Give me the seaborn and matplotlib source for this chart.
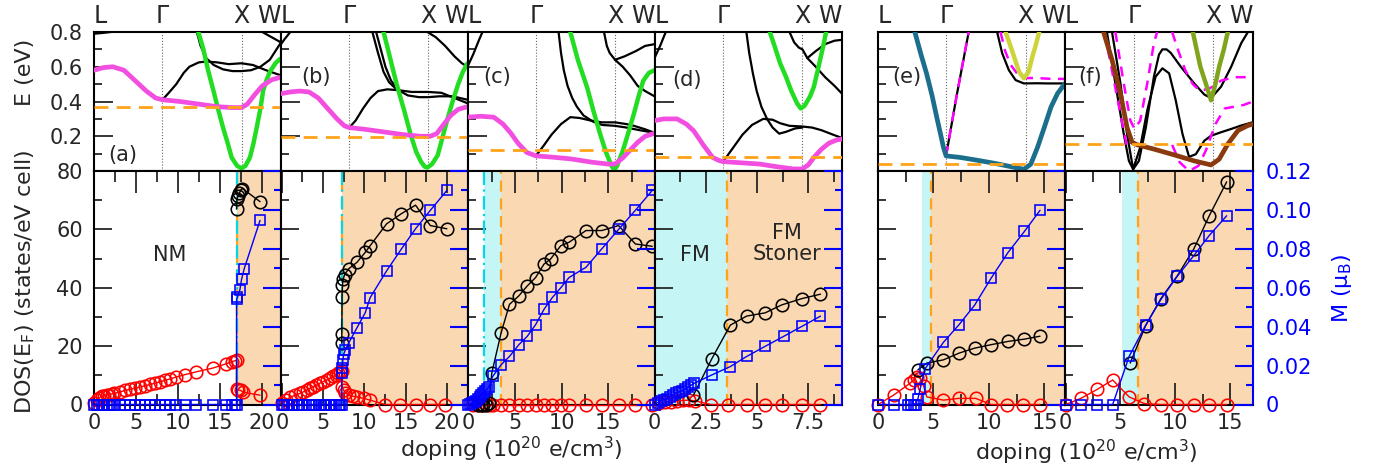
import numpy as np
import matplotlib
matplotlib.use("Agg")
import matplotlib.pyplot as plt
import seaborn as sns
from matplotlib.ticker import MultipleLocator, FuncFormatter, NullFormatter

sns.set_style("white")
plt.rcParams["font.family"] = ["DejaVu Sans"]
plt.rcParams["mathtext.fontset"] = "dejavusans"

# ---------------- data: k-path ----------------
K_G, K_X = 0.366, 0.789
KPATH_TICKS = [0.0, K_G, K_X, 1.0]
KPATH_LABELS = ["L", "Γ", "X", "W"]

# ---------------- band structures (k, E) ----------------
# (a)
A_MAG = [(0.0,0.58),(0.05,0.595),(0.10,0.60),(0.16,0.58),(0.22,0.52),(0.28,0.46),(0.33,0.42),(0.366,0.41),(0.46,0.40),(0.56,0.385),(0.66,0.37),(0.74,0.365),(0.789,0.365),(0.82,0.385),(0.86,0.44),(0.90,0.49),(0.95,0.525),(1.0,0.54)]
A_GRN = [(0.558,0.80),(0.585,0.70),(0.61,0.58),(0.638,0.465),(0.665,0.35),(0.69,0.25),(0.715,0.16),(0.736,0.078),(0.765,0.03),(0.789,0.015),(0.81,0.03),(0.834,0.078),(0.853,0.16),(0.87,0.25),(0.89,0.36),(0.905,0.465),(0.925,0.53),(0.94,0.57),(0.97,0.62),(0.995,0.645)]
A_BLK1 = [(0.366,0.41),(0.40,0.45),(0.44,0.50),(0.48,0.565),(0.51,0.60),(0.56,0.625),(0.60,0.63),(0.66,0.625),(0.72,0.615),(0.789,0.62),(0.85,0.61),(0.92,0.58),(1.0,0.55)]
A_BLK2 = [(0.55,0.80),(0.57,0.72),(0.60,0.65),(0.64,0.61),(0.69,0.585),(0.74,0.575),(0.789,0.575),(0.84,0.58),(0.89,0.60),(0.94,0.64),(1.0,0.74)]
A_BLK3 = [(0.90,0.80),(0.95,0.77),(1.0,0.74)]
A_BLK4 = [(0.0,0.79),(0.05,0.795),(0.09,0.80)]
# (b)
B_MAG = [(0.0,0.445),(0.05,0.455),(0.10,0.46),(0.15,0.455),(0.20,0.42),(0.25,0.36),(0.30,0.30),(0.34,0.26),(0.366,0.25),(0.45,0.24),(0.55,0.225),(0.65,0.21),(0.75,0.20),(0.80,0.20),(0.835,0.215),(0.87,0.265),(0.91,0.32),(0.95,0.355),(1.0,0.37)]
B_GRN = [(0.55,0.80),(0.585,0.65),(0.62,0.50),(0.66,0.35),(0.695,0.21),(0.725,0.11),(0.75,0.055),(0.77,0.025),(0.785,0.02),(0.81,0.04),(0.84,0.09),(0.865,0.19),(0.89,0.29),(0.92,0.40),(0.95,0.50),(0.975,0.57),(1.0,0.62)]
B_BLK1 = [(0.366,0.25),(0.40,0.29),(0.44,0.36),(0.48,0.42),(0.52,0.46),(0.57,0.47),(0.63,0.465),(0.70,0.455),(0.789,0.455),(0.86,0.45),(0.93,0.42),(1.0,0.39)]
B_BLK2 = [(0.51,0.80),(0.535,0.70),(0.56,0.60),(0.59,0.52),(0.63,0.465),(0.68,0.435),(0.74,0.425),(0.789,0.425),(0.85,0.43),(0.92,0.43),(1.0,0.41)]
B_BLK3 = [(0.49,0.80),(0.52,0.68),(0.55,0.57),(0.58,0.51),(0.62,0.47)]
B_BLK4 = [(0.785,0.80),(0.80,0.79),(0.83,0.77),(0.88,0.72),(0.93,0.66),(0.97,0.62),(1.0,0.60)]
B_BLK5 = [(0.0,0.73),(0.02,0.76),(0.05,0.80)]
# (c)
C_MAG = [(0.0,0.31),(0.07,0.315),(0.14,0.31),(0.19,0.27),(0.23,0.22),(0.27,0.16),(0.317,0.107),(0.366,0.087),(0.45,0.08),(0.55,0.07),(0.67,0.05),(0.75,0.04),(0.789,0.04),(0.83,0.075),(0.87,0.12),(0.91,0.165),(0.95,0.20),(1.0,0.217)]
C_GRN = [(0.55,0.80),(0.59,0.64),(0.64,0.48),(0.675,0.34),(0.71,0.21),(0.74,0.11),(0.77,0.03),(0.785,0.005),(0.80,0.03),(0.83,0.115),(0.86,0.22),(0.89,0.33),(0.915,0.43),(0.94,0.52),(0.97,0.565),(1.0,0.58)]
C_BLK1 = [(0.366,0.087),(0.41,0.15),(0.45,0.21),(0.50,0.27),(0.55,0.31),(0.60,0.305),(0.66,0.29),(0.72,0.28),(0.789,0.28),(0.85,0.27),(0.89,0.26),(0.95,0.24),(1.0,0.22)]
C_BLK2 = [(0.487,0.80),(0.50,0.68),(0.515,0.58),(0.535,0.49),(0.56,0.42),(0.585,0.37),(0.62,0.32),(0.67,0.285),(0.72,0.265),(0.789,0.26),(0.85,0.25),(0.92,0.235),(1.0,0.22)]
C_BLK3 = [(0.73,0.80),(0.745,0.72),(0.76,0.68),(0.789,0.64),(0.84,0.66),(0.90,0.69),(0.95,0.72),(1.0,0.73)]
C_BLK4 = [(0.789,0.64),(0.83,0.60),(0.87,0.55),(0.91,0.49),(0.95,0.46),(1.0,0.43)]
C_BLK5 = [(0.0,0.60),(0.03,0.67),(0.06,0.75),(0.08,0.80)]
# (d)
D_MAG = [(0.0,0.29),(0.05,0.30),(0.12,0.30),(0.17,0.27),(0.21,0.23),(0.26,0.15),(0.31,0.078),(0.345,0.06),(0.366,0.054),(0.45,0.048),(0.56,0.04),(0.65,0.025),(0.74,0.012),(0.789,0.012),(0.82,0.035),(0.85,0.078),(0.89,0.125),(0.93,0.16),(0.97,0.178),(1.0,0.184)]
D_GRN = [(0.615,0.80),(0.64,0.72),(0.67,0.62),(0.70,0.545),(0.73,0.46),(0.76,0.39),(0.78,0.36),(0.80,0.375),(0.83,0.43),(0.85,0.485),(0.875,0.60),(0.90,0.72),(0.915,0.80)]
D_BLK1 = [(0.366,0.054),(0.41,0.12),(0.47,0.21),(0.52,0.265),(0.58,0.30),(0.63,0.295),(0.67,0.275),(0.72,0.26),(0.789,0.256),(0.84,0.25),(0.89,0.235),(0.95,0.21),(1.0,0.19)]
D_BLK2 = [(0.49,0.80),(0.505,0.68),(0.525,0.56),(0.545,0.46),(0.57,0.37),(0.60,0.30),(0.63,0.25),(0.665,0.215),(0.70,0.225),(0.75,0.245),(0.789,0.25)]
D_BLK3 = [(0.72,0.80),(0.745,0.74),(0.77,0.71),(0.789,0.70),(0.815,0.65),(0.86,0.60),(0.91,0.54),(0.96,0.49),(1.0,0.445)]
D_BLK4 = [(0.815,0.65),(0.86,0.69),(0.91,0.73),(0.96,0.75),(1.0,0.755)]
D_BLK5 = [(0.0,0.65),(0.03,0.72),(0.06,0.80)]
# (e)
E_TEAL = [(0.197,0.80),(0.23,0.67),(0.26,0.56),(0.29,0.43),(0.314,0.31),(0.335,0.21),(0.35,0.136),(0.364,0.087),(0.44,0.078),(0.53,0.062),(0.62,0.045),(0.71,0.025),(0.78,0.01),(0.817,0.039),(0.853,0.136),(0.889,0.25),(0.925,0.368),(0.96,0.446),(1.0,0.504)]
E_BLK1 = [(0.364,0.087),(0.42,0.43),(0.485,0.80)]
E_BLK2 = [(0.637,0.80),(0.664,0.678),(0.70,0.58),(0.736,0.523),(0.78,0.504),(0.85,0.505),(0.907,0.504),(1.0,0.504)]
E_MAGD1 = [(0.364,0.087),(0.42,0.43),(0.485,0.80)]
E_MAGD2 = [(0.655,0.80),(0.68,0.69),(0.71,0.61),(0.745,0.56),(0.78,0.535),(0.85,0.535),(0.93,0.53),(1.0,0.53)]
E_YEL = [(0.682,0.80),(0.705,0.73),(0.727,0.66),(0.755,0.57),(0.78,0.533),(0.805,0.57),(0.826,0.66),(0.845,0.73),(0.862,0.80)]
# (f)
F_BRN = [(0.205,0.80),(0.25,0.64),(0.295,0.446),(0.33,0.25),(0.357,0.165),(0.384,0.151),(0.473,0.126),(0.58,0.093),(0.6875,0.058),(0.777,0.035),(0.82,0.068),(0.866,0.155),(0.92,0.233),(0.973,0.262),(1.0,0.27)]
F_BLK1 = [(0.223,0.80),(0.268,0.504),(0.3125,0.213),(0.34,0.058),(0.3625,0.01),(0.393,0.058),(0.43,0.25),(0.473,0.543),(0.50,0.67),(0.518,0.70),(0.54,0.70),(0.5625,0.68),(0.616,0.60),(0.6875,0.504),(0.741,0.44),(0.777,0.42),(0.83,0.485),(0.884,0.60),(0.9375,0.736),(0.973,0.80)]
F_BLK2 = [(0.25,0.80),(0.295,0.504),(0.33,0.213),(0.3625,0.01),(0.40,0.136),(0.4375,0.349),(0.482,0.543),(0.518,0.591),(0.554,0.562),(0.589,0.407),(0.625,0.213),(0.66,0.081),(0.696,0.097),(0.741,0.174),(0.777,0.203),(0.83,0.223),(0.884,0.242),(0.9375,0.262),(1.0,0.281)]
F_OLV = [(0.68,0.80),(0.70,0.70),(0.72,0.60),(0.75,0.50),(0.777,0.407),(0.80,0.50),(0.82,0.60),(0.845,0.70),(0.866,0.80)]
F_MAGD1 = [(0.268,0.80),(0.3125,0.504),(0.348,0.29),(0.37,0.242),(0.40,0.29),(0.4375,0.504),(0.473,0.736),(0.49,0.80)]
F_MAGD2 = [(0.21,0.80),(0.255,0.55),(0.30,0.30),(0.33,0.14)]
F_MAGD3 = [(0.57,0.15),(0.61,0.05),(0.66,0.0),(0.71,0.03),(0.75,0.12),(0.80,0.27),(0.85,0.36),(0.90,0.37),(0.95,0.38),(1.0,0.40)]
F_MAGD4 = [(0.57,0.80),(0.60,0.70),(0.64,0.58),(0.68,0.50),(0.72,0.46),(0.777,0.48),(0.83,0.52),(0.90,0.54),(1.0,0.54)]

FERMI = [0.368, 0.198, 0.12, 0.083, 0.04, 0.155]

# ---------------- doping data ----------------
# (a)
A_RED_X = [0,0.3,0.6,0.9,1.2,1.5,1.8,2.1,2.4,3.1,3.7,4.3,4.9,5.5,6.1,6.7,7.3,7.9,8.5,9.1,9.8,10.8,12.2,14.2,15.8,16.4,16.8,17.0,17.0,17.2,17.5,17.8,19.8]
A_RED = [0.5,1.5,2.2,2.8,3.0,3.2,3.4,3.6,3.8,4.3,4.8,5.2,5.6,6.0,6.4,6.9,7.3,7.8,8.3,8.8,9.4,10.2,11.2,12.5,14.0,14.6,15.0,15.2,5.2,5.0,4.8,4.2,3.2]
A_BLK_X = [17.0,17.05,17.2,17.35,17.5,17.7,19.8]
A_BLK = [67.0,70.5,71.5,72.5,73.5,74.0,69.5]
A_M_X = [0,0.3,0.6,0.9,1.2,1.5,1.8,2.1,2.4,3.1,3.7,4.3,4.9,5.5,6.1,6.7,7.3,7.9,8.5,9.1,9.8,10.8,12.2,14.2,15.8,16.4,16.8,17.0,17.0,17.1,17.4,17.6,17.9,19.8]
A_M = [0]*28 + [0.054,0.055,0.059,0.0644,0.0696,0.0946]
# (b)
B_RED_X = [0,0.5,1.0,1.6,2.2,2.6,3.0,3.4,3.8,4.2,4.6,5.0,5.45,5.85,6.26,6.6,6.86,7.1,7.27,7.27,7.5,7.7,8.1,8.6,9.1,9.9,10.7,12.5,14.3,16.2,18.0,19.8]
B_RED = [0.5,1.5,2.4,3.2,3.8,4.3,4.9,5.5,6.1,6.6,7.3,7.8,8.4,9.0,9.6,10.1,10.7,11.2,11.6,6.1,4.9,4.0,3.2,2.8,2.6,2.1,1.5,0,0,0,0,0]
B_BLK_X = [7.27,7.27,7.3,7.35,7.45,7.6,8.1,9.1,10.1,10.7,12.7,14.5,16.2,18.0,20.0]
B_BLK = [21.0,24.0,37.0,41.0,43.0,44.5,46.5,48.7,52.1,54.4,61.9,65.4,68.3,61.3,60.2]
B_M_X = [0,0.3,0.6,0.9,1.2,1.5,1.8,2.1,2.4,3.3,3.6,3.9,4.2,4.5,4.8,5.1,5.4,6.0,6.3,6.6,6.9,7.1,7.27,7.27,7.3,7.4,7.5,7.7,8.1,9.1,10.1,10.7,12.7,14.5,16.2,18.0,20.0]
B_M = [0]*23 + [0.016,0.019,0.023,0.026,0.028,0.0316,0.0394,0.0471,0.0549,0.0687,0.080,0.0903,0.0998,0.110]
# (c)
C_RED_X = [0.5,1.0,1.5,2.0,2.3,2.6,3.5,4.4,5.4,6.3,7.2,8.1,9.0,9.9,10.8,12.6,14.3,16.1,17.9,19.7]
C_RED = [0]*20
C_BLK_X = [1.0,1.3,1.6,1.9,2.2,2.5,3.5,4.4,5.4,6.3,7.2,8.1,8.8,9.9,10.8,12.6,14.3,16.1,17.9,19.7]
C_BLK = [0,0,0,0,0.5,10.7,24.5,34.3,37.2,40.6,43.5,48.1,49.8,54.4,55.6,59.6,59.6,61.3,55.0,54.2]
C_M_X = [0,0.2,0.4,0.6,0.8,1.0,1.2,1.4,1.6,1.8,2.0,2.2,2.6,3.5,4.4,5.4,6.3,7.2,8.1,9.0,9.9,10.8,12.6,14.3,16.1,17.9,19.7]
C_M = [0,0.0005,0.001,0.0015,0.002,0.003,0.004,0.005,0.006,0.007,0.008,0.009,0.0144,0.0204,0.0247,0.0307,0.035,0.041,0.0489,0.055,0.060,0.0653,0.0705,0.080,0.090,0.0998,0.110]
# (d)
D_RED_X = [0.2,0.5,0.8,1.1,1.4,1.7,2.0,2.75,3.6,4.5,5.4,6.2,7.2,8.1]
D_RED = [0.5,0.8,1.0,1.2,1.4,1.5,1.2,0,0,0,0,0,0,0]
D_BLK_X = [1.9,2.8,3.7,4.5,5.4,6.2,7.2,8.1]
D_BLK = [3.2,15.7,27.2,30.3,31.4,34.1,36.3,37.8]
D_M_X = [0,0.15,0.3,0.45,0.6,0.75,0.9,1.05,1.2,1.35,1.5,1.65,1.8,1.95,2.8,3.7,4.5,5.4,6.3,7.2,8.1]
D_M = [0,0.001,0.002,0.0025,0.003,0.004,0.005,0.006,0.0065,0.007,0.008,0.009,0.010,0.011,0.0152,0.0195,0.0247,0.0299,0.035,0.0402,0.0454]
# (e)
E_RED_X = [0,1.4,2.9,3.2,3.5,3.8,4.1,4.4,5.9,7.3,8.8,10.2,11.6,13.1,14.6]
E_RED = [0,3.2,7.3,8.4,9.5,9.0,6.5,2.6,1.5,2.1,2.1,0,0,0,0]
E_BLK_X = [3.6,4.4,5.9,7.3,8.7,10.2,11.7,13.2,14.6]
E_BLK = [11.9,14.2,15.3,17.6,19.3,20.5,21.6,22.4,23.4]
E_M_X = [0,1.4,2.7,3.0,3.2,3.4,3.6,3.8,4.2,5.9,7.3,8.7,10.2,11.7,13.2,14.6]
E_M = [0,0,0,0,0,0,0.003,0.008,0.018,0.032,0.041,0.051,0.065,0.078,0.089,0.0998]
# (f)
F_RED_X = [0,1.4,2.9,4.3,5.8,7.2,8.7,10.2,11.7,13.1,14.7]
F_RED = [0,2.1,5.2,8.4,2.6,0.3,0,0,0,0,0]
F_BLK_X = [5.9,7.3,8.7,10.2,11.7,13.1,14.7]
F_BLK = [14.2,27.0,36.3,44.1,53.3,64.6,76.3]
F_M_X = [0,1.4,2.9,4.3,5.8,7.3,8.7,10.2,11.7,13.1,14.7]
F_M = [0,0,0,0,0.0247,0.0407,0.054,0.066,0.0765,0.0868,0.097]

PANEL_LABELS = ["(a)", "(b)", "(c)", "(d)", "(e)", "(f)"]

# ---------------- styles ----------------
MAG = "#F24FE0"
GRN = "#22DD22"
ORG = "#FFA31A"
TEAL = "#1B6F8C"
YEL = "#CDD43A"
BRN = "#8B3A0F"
OLV = "#80A41C"
PEACH = "#FAD8B2"
CYAN_FILL = "#C6F5F5"
CYAN_LINE = "#00D8E8"

W, H = 1376, 470
fig = plt.figure(figsize=(W / 100, H / 100), dpi=100)

COLS = [(94, 281), (281, 467.5), (467.5, 654.5), (654.5, 842), (878, 1065), (1065, 1253)]
TOP_Y = (32, 171)
BOT_Y = (171, 404.5)


def px_axes(x0, x1, y0, y1):
    return fig.add_axes([x0 / W, 1 - y1 / H, (x1 - x0) / W, (y1 - y0) / H])


def band(ax, pts, color, lw, ls="-", z=2):
    arr = np.asarray(pts, dtype=float)
    sns.lineplot(x=arr[:, 0], y=arr[:, 1], ax=ax, color=color, lw=lw, linestyle=ls,
                 sort=False, estimator=None, legend=False, zorder=z)


def series(ax, x, y, color, marker, ms, z=3):
    sns.lineplot(x=np.asarray(x, float), y=np.asarray(y, float), ax=ax, color=color, lw=1.0,
                 marker=marker, markersize=ms, markerfacecolor="none", markeredgecolor=color,
                 markeredgewidth=1.15, sort=False, estimator=None, legend=False, zorder=z,
                 clip_on=False)


# band specification per panel: list of (points, color, lw, linestyle, zorder)
BANDS = [
    [(A_BLK1, "k", 1.6, "-", 2), (A_BLK2, "k", 1.6, "-", 2), (A_BLK3, "k", 1.6, "-", 2), (A_BLK4, "k", 1.6, "-", 2),
     (A_GRN, GRN, 3.2, "-", 3), (A_MAG, MAG, 3.4, "-", 4)],
    [(B_BLK1, "k", 1.6, "-", 2), (B_BLK2, "k", 1.6, "-", 2), (B_BLK3, "k", 1.6, "-", 2), (B_BLK4, "k", 1.6, "-", 2),
     (B_BLK5, "k", 1.6, "-", 2), (B_GRN, GRN, 3.2, "-", 3), (B_MAG, MAG, 3.4, "-", 4)],
    [(C_BLK1, "k", 1.6, "-", 2), (C_BLK2, "k", 1.6, "-", 2), (C_BLK3, "k", 1.6, "-", 2), (C_BLK4, "k", 1.6, "-", 2),
     (C_BLK5, "k", 1.6, "-", 2), (C_GRN, GRN, 3.2, "-", 3), (C_MAG, MAG, 3.4, "-", 4)],
    [(D_BLK1, "k", 1.6, "-", 2), (D_BLK2, "k", 1.6, "-", 2), (D_BLK3, "k", 1.6, "-", 2), (D_BLK4, "k", 1.6, "-", 2),
     (D_BLK5, "k", 1.6, "-", 2), (D_GRN, GRN, 3.2, "-", 3), (D_MAG, MAG, 3.4, "-", 4)],
    [(E_BLK1, "k", 1.6, "-", 2), (E_BLK2, "k", 1.6, "-", 2), (E_MAGD1, "#FF00FF", 1.8, (0, (4, 3)), 3),
     (E_MAGD2, "#FF00FF", 1.8, (0, (4, 3)), 3), (E_YEL, YEL, 3.2, "-", 4), (E_TEAL, TEAL, 3.4, "-", 4)],
    [(F_BLK1, "k", 1.6, "-", 2), (F_BLK2, "k", 1.6, "-", 2), (F_MAGD1, "#FF00FF", 1.8, (0, (4, 3)), 3),
     (F_MAGD2, "#FF00FF", 1.8, (0, (4, 3)), 3), (F_MAGD3, "#FF00FF", 1.8, (0, (4, 3)), 3),
     (F_MAGD4, "#FF00FF", 1.8, (0, (4, 3)), 3), (F_OLV, OLV, 3.2, "-", 4), (F_BRN, BRN, 3.4, "-", 4)],
]

DOPING = [
    (A_RED_X, A_RED, A_BLK_X, A_BLK, A_M_X, A_M),
    (B_RED_X, B_RED, B_BLK_X, B_BLK, B_M_X, B_M),
    (C_RED_X, C_RED, C_BLK_X, C_BLK, C_M_X, C_M),
    (D_RED_X, D_RED, D_BLK_X, D_BLK, D_M_X, D_M),
    (E_RED_X, E_RED, E_BLK_X, E_BLK, E_M_X, E_M),
    (F_RED_X, F_RED, F_BLK_X, F_BLK, F_M_X, F_M),
]

XLIMS = [(0, 22.3), (-0.1, 22.5), (-0.1, 19.95), (0, 9.15), (0, 16.85), (-0.05, 17.1)]
XMAJ = [5, 5, 5, 2.5, 5, 5]
SHADE = [
    [(17.0, 30, PEACH)],
    [(7.35, 30, PEACH)],
    [(1.7, 3.5, CYAN_FILL), (3.5, 30, PEACH)],
    [(-1, 3.55, CYAN_FILL), (3.55, 30, PEACH)],
    [(3.95, 4.75, CYAN_FILL), (4.75, 30, PEACH)],
    [(5.12, 6.6, CYAN_FILL), (6.6, 30, PEACH)],
]
VLINES = [
    [(17.0, ORG, (0, (5, 3))), (17.0, CYAN_LINE, (0, (6, 2, 1, 2)))],
    [(7.35, ORG, (0, (5, 3))), (7.35, CYAN_LINE, (0, (6, 2, 1, 2)))],
    [(1.7, CYAN_LINE, (0, (6, 2, 1, 2))), (3.5, ORG, (0, (5, 3)))],
    [(3.55, ORG, (0, (5, 3)))],
    [(4.75, ORG, (0, (5, 3)))],
    [(6.6, ORG, (0, (5, 3)))],
]
LABEL_POS = [(0.155, 0.115), (0.19, 0.676), (0.158, 0.676), (0.173, 0.655), (0.155, 0.676), (0.133, 0.676)]

FS = 15
LFS = 16
SPW = 1.5

for i, (x0, x1) in enumerate(COLS):
    # ---------- top: bands ----------
    ax = px_axes(x0, x1, *TOP_Y)
    for pts, c, lw, ls, z in BANDS[i]:
        band(ax, pts, c, lw, ls, z)
    ax.axhline(FERMI[i], color=ORG, lw=2.0, ls=(0, (5, 3)), zorder=5)
    for kv in (K_G, K_X):
        ax.axvline(kv, color="#666666", lw=0.8, ls=":", zorder=1)
    ax.set_xlim(0, 1)
    ax.set_ylim(0, 0.8)
    ax.xaxis.tick_top()
    ax.set_xticks(KPATH_TICKS)
    ax.set_xticklabels(KPATH_LABELS, fontsize=17)
    tl = ax.get_xticklabels()
    tl[0].set_ha("left")
    tl[-1].set_ha("right")
    ax.tick_params(axis="x", length=0, pad=3)
    ax.yaxis.set_major_locator(MultipleLocator(0.2))
    ax.yaxis.set_minor_locator(MultipleLocator(0.1))
    ax.tick_params(axis="y", which="major", direction="in", length=14, width=1.3, left=True, right=False)
    ax.tick_params(axis="y", which="minor", direction="in", length=6, width=1.3, left=True, right=False)
    if i == 0:
        ax.set_yticks([0.2, 0.4, 0.6, 0.8])
        ax.set_yticklabels(["0.2", "0.4", "0.6", "0.8"], fontsize=FS)
        ax.tick_params(axis="y", pad=8)
    else:
        ax.yaxis.set_major_formatter(NullFormatter())
    ax.set_xlabel("")
    ax.set_ylabel("")
    for s in ax.spines.values():
        s.set_linewidth(SPW)
        s.set_color("k")
    ax.text(*LABEL_POS[i], PANEL_LABELS[i], transform=ax.transAxes, fontsize=FS,
            ha="center", va="center", zorder=6)

    # ---------- bottom: DOS / M ----------
    bx = px_axes(x0, x1, *BOT_Y)
    bx.set_xlim(*XLIMS[i])
    bx.set_ylim(0, 80)
    for a0, a1, c in SHADE[i]:
        bx.axvspan(a0, a1, color=c, lw=0, zorder=0)
    for xv, c, ls in VLINES[i]:
        bx.axvline(xv, color=c, lw=1.6, ls=ls, zorder=1)
    rx, ry, kx, ky, mx, my = DOPING[i]
    series(bx, rx, ry, "#FF0000", "o", 9.0, z=3)
    series(bx, kx, ky, "k", "o", 9.0, z=4)
    bx.set_xlim(*XLIMS[i])
    bx.set_ylim(0, 80)
    bx.xaxis.set_major_locator(MultipleLocator(XMAJ[i]))
    bx.xaxis.set_minor_locator(MultipleLocator(XMAJ[i] / 2))
    if i == 3:
        bx.xaxis.set_major_formatter(FuncFormatter(lambda v, p: ("%g" % v)))
    else:
        bx.xaxis.set_major_formatter(FuncFormatter(lambda v, p: ("%d" % round(v))))
    bx.tick_params(axis="x", which="major", direction="in", length=16, width=1.3,
                   top=True, bottom=True, labelsize=FS, pad=6)
    bx.tick_params(axis="x", which="minor", direction="in", length=8, width=1.3, top=True, bottom=True)
    bx.yaxis.set_major_locator(MultipleLocator(20))
    bx.yaxis.set_minor_locator(MultipleLocator(10))
    bx.tick_params(axis="y", which="major", direction="in", length=13, width=1.3, left=True, right=False,
                   labelsize=FS, pad=8)
    bx.tick_params(axis="y", which="minor", direction="in", length=6, width=1.3, left=True, right=False)
    if i != 0:
        bx.yaxis.set_major_formatter(NullFormatter())
    bx.set_xlabel("")
    bx.set_ylabel("")
    for s in bx.spines.values():
        s.set_linewidth(SPW)
        s.set_color("k")
    bx.spines["right"].set_color("#0000FF")
    if i == 0:
        bx.text(0.406, 0.64, "NM", transform=bx.transAxes, fontsize=FS, ha="center", va="center")
    if i == 3:
        bx.text(0.216, 0.64, "FM", transform=bx.transAxes, fontsize=FS, ha="center", va="center")
        bx.text(0.706, 0.69, "FM\nStoner", transform=bx.transAxes, fontsize=FS, ha="center",
                va="center", linespacing=1.1)

    tx = bx.twinx()
    series(tx, mx, my, "#0000FF", "s", 7.5, z=5)
    tx.set_ylim(0, 0.12)
    tx.set_xlim(*XLIMS[i])
    tx.yaxis.set_major_locator(MultipleLocator(0.02))
    tx.yaxis.set_minor_locator(MultipleLocator(0.01))
    tx.tick_params(axis="y", which="major", direction="in", length=13, width=1.5, colors="#0000FF",
                   labelsize=FS, pad=9)
    tx.tick_params(axis="y", which="minor", direction="in", length=5, width=1.5, color="#0000FF")
    if i == 5:
        tx.yaxis.set_major_formatter(FuncFormatter(lambda v, p: "0" if abs(v) < 1e-9 else "%.2f" % v))
    else:
        tx.yaxis.set_major_formatter(NullFormatter())
    tx.set_ylabel("")
    for s in tx.spines.values():
        s.set_visible(False)

fig.text(25 / W, 1 - 282 / H, "DOS(E$_\\mathrm{F}$) (states/eV cell)", rotation=90, fontsize=LFS,
         ha="center", va="center")
fig.text(25 / W, 1 - 72 / H, "E (eV)", rotation=90, fontsize=LFS, ha="center", va="center")
fig.text(1342 / W, 1 - 288 / H, "M (μ$_\\mathrm{B}$)", rotation=90, fontsize=LFS, ha="center",
         va="center", color="#0000FF")
fig.text(511 / W, 1 - 449 / H, "doping (10$^{20}$ e/cm$^{3}$)", fontsize=LFS, ha="center", va="center")
fig.text(1086 / W, 1 - 452 / H, "doping (10$^{20}$ e/cm$^{3}$)", fontsize=LFS, ha="center", va="center")

fig.savefig("out.png", dpi=100)
